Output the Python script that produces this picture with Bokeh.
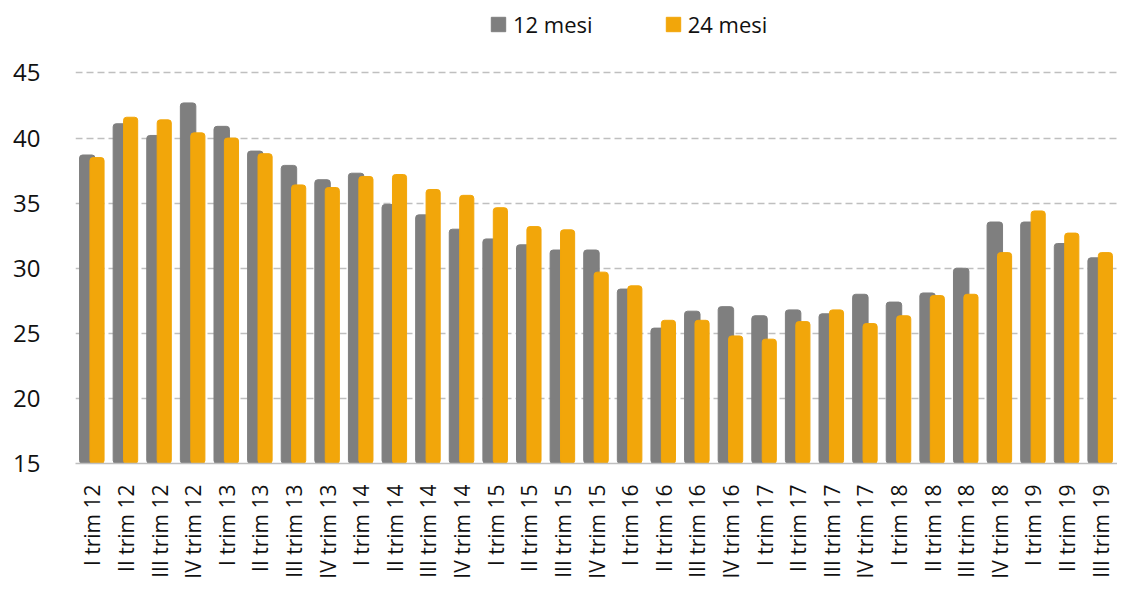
import math
from bokeh.plotting import figure
from bokeh.models import (ColumnDataSource, Range1d, FactorRange, FixedTicker,
                          Legend, LegendItem)
from bokeh.transform import dodge
from bokeh.embed import file_html
from bokeh.resources import INLINE

categories = [
    "I trim 12", "II trim 12", "III trim 12", "IV trim 12",
    "I trim 13", "II trim 13", "III trim 13", "IV trim 13",
    "I trim 14", "II trim 14", "III trim 14", "IV trim 14",
    "I trim 15", "II trim 15", "III trim 15", "IV trim 15",
    "I trim 16", "II trim 16", "III trim 16", "IV trim 16",
    "I trim 17", "II trim 17", "III trim 17", "IV trim 17",
    "I trim 18", "II trim 18", "III trim 18", "IV trim 18",
    "I trim 19", "II trim 19", "III trim 19",
]
mesi_12 = [
    38.7, 41.1, 40.2, 42.7,
    40.9, 39.0, 37.9, 36.8,
    37.3, 34.9, 34.1, 33.0,
    32.25, 31.8, 31.4, 31.4,
    28.4, 25.4, 26.7, 27.05,
    26.35, 26.8, 26.5, 28.0,
    27.4, 28.1, 30.0, 33.55,
    33.55, 31.9, 30.8,
]
mesi_24 = [
    38.5, 41.6, 41.4, 40.4,
    40.0, 38.8, 36.4, 36.2,
    37.05, 37.2, 36.05, 35.6,
    34.65, 33.2, 32.95, 29.7,
    28.65, 26.0, 26.0, 24.8,
    24.55, 25.9, 26.8, 25.75,
    26.35, 27.9, 28.0, 31.2,
    34.4, 32.7, 31.2,
]
series_names = ["12 mesi", "24 mesi"]
y_ticks = [15, 20, 25, 30, 35, 40, 45]

source = ColumnDataSource(data=dict(cat=categories, m12=mesi_12, m24=mesi_24))

FONT = "Open Sans"
TEXT = "#111111"
GREY = "#7F7F7F"
ORANGE = "#F2A60A"

p = figure(
    width=1117, height=581,
    x_range=FactorRange(*categories, range_padding=0),
    y_range=Range1d(15, 49.8),
    output_backend="svg", toolbar_location=None,
    min_border_left=75, min_border_right=0,
    min_border_top=10, min_border_bottom=118,
)

r12 = p.vbar(x=dodge("cat", -0.15, range=p.x_range), top="m12", bottom=15,
             width=0.46, source=source, fill_color=GREY, line_color=GREY,
             border_radius=3)
r24 = p.vbar(x=dodge("cat", 0.14, range=p.x_range), top="m24", bottom=15,
             width=0.42, source=source, fill_color=ORANGE, line_color=ORANGE,
             border_radius=3)

p.outline_line_color = None
p.background_fill_color = "white"
p.border_fill_color = "white"

p.xgrid.grid_line_color = None
p.ygrid.ticker = FixedTicker(ticks=y_ticks[1:])
p.ygrid.grid_line_color = "#BFBFBF"
p.ygrid.grid_line_dash = "7 4"
p.ygrid.grid_line_width = 1.5

p.yaxis.ticker = FixedTicker(ticks=y_ticks)
p.yaxis.axis_line_color = None
p.yaxis.major_tick_line_color = None
p.yaxis.minor_tick_line_color = None
p.yaxis.major_label_text_font = FONT
p.yaxis.major_label_text_font_size = "24px"
p.yaxis.major_label_text_color = TEXT
p.yaxis.major_label_standoff = 29

p.xaxis.axis_line_color = "#BFBFBF"
p.xaxis.axis_line_width = 1.5
p.xaxis.major_tick_line_color = None
p.xaxis.minor_tick_line_color = None
p.xaxis.major_label_orientation = math.pi / 2
p.xaxis.major_label_text_font = FONT
p.xaxis.major_label_text_font_size = "21px"
p.xaxis.major_label_text_color = TEXT
p.xaxis.major_label_standoff = 15

legend = Legend(
    items=[LegendItem(label=series_names[0], renderers=[r12]),
           LegendItem(label=series_names[1], renderers=[r24])],
    orientation="horizontal", location=(414, 424),
    label_text_font=FONT, label_text_font_size="22px", label_text_color=TEXT,
    glyph_width=18, glyph_height=18, label_standoff=6, spacing=71,
    border_line_color=None, background_fill_alpha=0,
    padding=2, margin=0,
)
p.add_layout(legend, "center")

open("out.html", "w").write(file_html(p, INLINE))
